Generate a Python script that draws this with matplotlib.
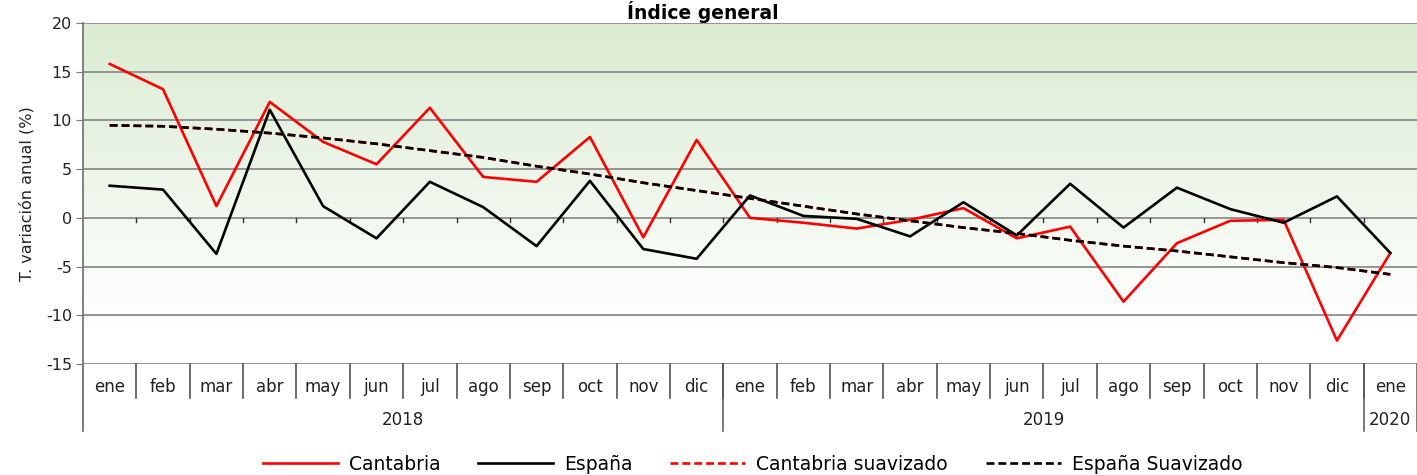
import numpy as np
import matplotlib.pyplot as plt
from matplotlib.transforms import blended_transform_factory

months = ['ene', 'feb', 'mar', 'abr', 'may', 'jun', 'jul', 'ago', 'sep', 'oct', 'nov', 'dic',
          'ene', 'feb', 'mar', 'abr', 'may', 'jun', 'jul', 'ago', 'sep', 'oct', 'nov', 'dic',
          'ene']
years = ['2018', '2019', '2020']
year_sizes = [12, 12, 1]

cantabria = [15.8, 13.2, 1.2, 11.9, 7.8, 5.5, 11.3, 4.2, 3.7, 8.3, -2.0, 8.0,
             0.0, -0.5, -1.1, -0.2, 1.0, -2.1, -0.9, -8.6, -2.6, -0.3, -0.2, -12.6, -3.6]
espana = [3.3, 2.9, -3.7, 11.1, 1.2, -2.1, 3.7, 1.1, -2.9, 3.8, -3.2, -4.2,
          2.3, 0.2, -0.1, -1.9, 1.6, -1.8, 3.5, -1.0, 3.1, 0.9, -0.5, 2.2, -3.6]
espana_suav = [9.5, 9.4, 9.1, 8.7, 8.2, 7.6, 6.9, 6.2, 5.3, 4.5, 3.6, 2.8,
               2.0, 1.2, 0.4, -0.3, -1.0, -1.6, -2.3, -2.9, -3.4, -4.0, -4.6, -5.1, -5.8]
cantabria_suav = espana_suav  # hidden under the España line in the original

plt.rcParams['font.family'] = ['DejaVu Sans']
plt.rcParams['axes.unicode_minus'] = False

fig = plt.figure(figsize=(14.17, 4.75), dpi=100)
ax = fig.add_axes([83 / 1417, 1 - 364 / 475, 1 - 83 / 1417, 341 / 475])

x = np.arange(len(months))
ax.set_xlim(-0.5, len(months) - 0.5)
ax.set_ylim(-15, 20)

# green gradient background
grad = np.linspace(0, 1, 256).reshape(-1, 1)
top = np.array([0.855, 0.925, 0.824])
bot = np.array([1.0, 1.0, 1.0])
t = np.clip((grad - 0.12) / 0.88, 0, 1)
img = bot + (top - bot) * t[..., None]
ax.imshow(img, extent=(-0.5, len(months) - 0.5, -15, 20), aspect='auto', origin='lower', zorder=0)

for yv in range(-15, 21, 5):
    ax.axhline(yv, color='#8c8c8c', lw=1.3, zorder=1)

ax.plot(x, cantabria, color='#ff0000', lw=1.9, zorder=3, label='Cantabria')
ax.plot(x, espana, color='black', lw=1.9, zorder=3, label='España')
ax.plot(x, cantabria_suav, color='#ff0000', lw=1.9, ls=(0, (3, 1.5)), zorder=4, label='Cantabria suavizado')
ax.plot(x, espana_suav, color='black', lw=1.9, ls=(0, (3, 1.5)), zorder=5, label='España Suavizado')

# small ticks on the zero line
for b in range(1, len(months)):
    ax.plot([b - 0.5, b - 0.5], [0, -0.45], color='#333333', lw=1, zorder=2)

for s in ['top', 'right', 'bottom']:
    ax.spines[s].set_visible(False)
ax.spines['left'].set_color('#777777')
ax.spines['left'].set_linewidth(1.3)
ax.spines['left'].set_bounds(-15, 20)
ax.set_yticks(range(-15, 21, 5))
ax.tick_params(axis='y', length=5, color='#777777', labelsize=11.5, labelcolor='#222222', pad=3)
ax.set_xticks([])
ax.set_ylabel('T. variación anual (%)', fontsize=11.5, color='#222222', labelpad=8)

# multi-level category axis
tr = blended_transform_factory(ax.transData, ax.transAxes)
y_month = -0.066
y_sep = -0.1
y_year = -0.165
y_ysep = -0.197
for i, m in enumerate(months):
    ax.text(i, y_month, m, transform=tr, ha='center', va='center', fontsize=12, color='#222222')
for b in range(1, len(months)):
    ax.plot([b - 0.5, b - 0.5], [0, y_sep], transform=tr, color='#444444', lw=1.1, clip_on=False)
start = 0
bounds = [-0.5]
for yr, n in zip(years, year_sizes):
    ax.text(start + (n - 1) / 2, y_year, yr, transform=tr, ha='center', va='center', fontsize=12, color='#222222')
    start += n
    bounds.append(start - 0.5)
for b in bounds:
    ax.plot([b, b], [0, y_ysep], transform=tr, color='#555555', lw=1.1, clip_on=False)

fig.text(0.496, 1 - 19 / 475, 'Índice general', ha='center', va='baseline', fontsize=13.5, fontweight='bold')

fig.legend(loc='center', bbox_to_anchor=(0.531, 0.022), ncol=4, frameon=False, fontsize=13.5,
           handlelength=4.0, columnspacing=2.0, handletextpad=0.6)

fig.savefig('out.png', dpi=100)
